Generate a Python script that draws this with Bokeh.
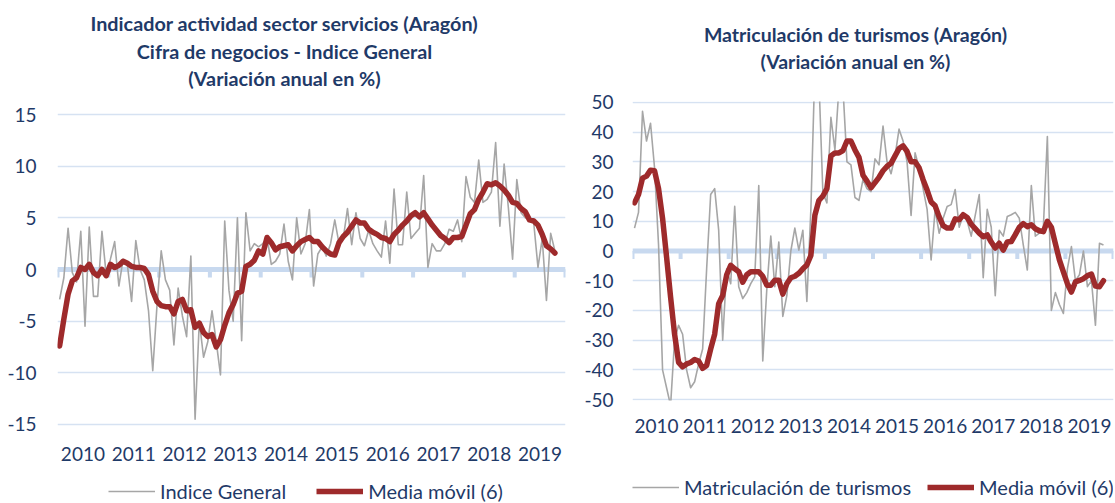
import pandas as pd
from bokeh.plotting import figure
from bokeh.layouts import row, column
from bokeh.models import Range1d, FixedTicker, Span, Legend, LegendItem
from bokeh.core.properties import value
from bokeh.embed import file_html
from bokeh.resources import INLINE

# ---------------- data ----------------
years = list(range(2010, 2020))
year_labels = [str(y) for y in years]
first_month = "2010-01"

left_title = ["Indicador actividad sector servicios (Aragón)",
              "Cifra de negocios - Indice General",
              "(Variación anual en %)"]
right_title = ["Matriculación de turismos (Aragón)",
               "(Variación anual en %)"]

left_yticks = [-15, -10, -5, 0, 5, 10, 15]
right_yticks = [-50, -40, -30, -20, -10, 0, 10, 20, 30, 40, 50]

indice_general = [
    -2.9, -0.8, 4.0, -0.3, -1.2, 3.7, -5.5, 4.1, -2.6, -2.6, 3.7, -0.5,
    1.0, 2.7, -1.6, 1.0, 0.5, -3.1, 2.8, 0.0, -1.0, -4.0, -9.8, -3.5,
    1.8, -1.0, -2.0, -7.3, -1.8, -4.5, -6.5, 1.3, -14.5, -5.0, -8.5, -7.0,
    -4.0, -7.0, -10.2, 4.7, -2.0, -5.0, 5.0, -6.9, 5.5, 1.8, 2.5, 2.2,
    2.5, 3.1, 0.5, 0.8, 1.5, 4.4, 0.8, -1.0, 5.0, 1.5, 2.5, 5.8,
    -1.6, 1.5, 2.2, 1.3, 2.5, 4.8, 2.5, 3.0, 5.9, 2.4, 5.5, 3.0,
    2.3, 3.8, 2.5, 1.8, 1.2, 4.7, 0.6, 7.8, 2.4, 2.4, 7.5, 3.0,
    3.5, 4.0, 9.1, 0.2, 2.5, 1.8, 1.8, 2.5, 3.9, 3.7, 4.8, 2.7,
    9.0, 7.0, 6.5, 10.6, 6.5, 6.8, 7.5, 12.3, 4.2, 10.2, 6.0, 1.0,
    8.7, 5.5, 5.0, 5.0, 4.5, 0.2, 3.0, -3.0, 3.5, 1.8]

indice_media = [
    -7.4, -4.8, -2.4, -1.1, -0.8, 0.2, 0.0, 0.5, -0.3, -0.6, 0.0, -0.6,
    0.5, 0.2, 0.4, 0.8, 0.6, 0.3, 0.2, 0.2, 0.1, -0.5, -2.1, -3.1,
    -3.5, -3.6, -3.6, -4.3, -3.1, -2.9, -4.0, -3.9, -5.6, -5.2, -6.1, -6.5,
    -6.3, -7.5, -6.8, -5.4, -4.2, -3.4, -2.3, -2.1, 0.3, 0.5, 0.9, 1.8,
    1.5, 3.1, 2.6, 1.9, 2.2, 2.3, 2.4, 1.8, 2.3, 2.7, 2.9, 3.1,
    2.7, 2.7, 2.2, 1.8, 1.5, 1.4, 2.6, 3.2, 3.6, 4.2, 4.8, 4.5,
    4.5, 3.9, 3.6, 3.4, 3.1, 3.0, 2.7, 3.4, 3.8, 4.3, 4.7, 5.2,
    5.5, 5.1, 5.5, 4.9, 4.3, 3.8, 3.3, 3.0, 2.6, 3.1, 3.1, 3.2,
    4.3, 5.4, 5.8, 6.8, 7.5, 8.3, 8.2, 8.4, 8.1, 7.7, 7.2, 6.5,
    6.4, 5.9, 5.6, 4.8, 4.7, 4.3, 3.4, 2.3, 2.0, 1.6]

matriculacion = [
    7.7, 13.0, 47.0, 37.0, 43.0, 28.0, 2.0, -40.0, -46.0, -52.0, -30.0, -25.0,
    -28.0, -40.0, -46.0, -44.0, -38.0, -33.0, -6.0, 19.0, 21.0, 7.0, -30.0, -6.0,
    -11.0, 15.0, -12.0, -16.0, -14.0, -11.0, -8.7, 22.0, -37.0, -13.0, 5.0, -12.0,
    3.0, -22.0, -15.0, 0.0, 7.7, 0.3, 7.0, -17.0, 14.0, 62.0, 58.0, 19.5,
    16.2, 45.0, 34.0, 55.0, 55.0, 30.0, 29.0, 18.0, 17.0, 24.0, 21.0, 20.0,
    31.0, 29.0, 42.0, 30.0, 26.0, 32.0, 41.0, 37.0, 30.0, 12.0, 33.0, 28.0,
    21.0, 14.0, -3.0, 14.0, 6.0, 11.0, 15.0, 15.6, 20.7, 8.0, 12.0, 10.0,
    5.0, 12.0, 19.0, -9.0, 14.0, 8.0, -15.0, 7.0, 5.0, 11.6, 12.2, 13.0,
    11.0, 2.0, -6.4, 22.0, 5.0, 6.0, 8.0, 38.5, -20.0, -14.0, -18.0, -21.0,
    -6.0, 1.5, -10.0, -8.0, 0.0, -12.0, -10.0, -25.0, 2.6, 2.0]

matriculacion_media = [
    16.2, 19.0, 24.5, 25.2, 27.2, 27.0, 21.0, 11.0, -2.0, -15.5, -28.0, -37.5,
    -39.0, -38.0, -37.5, -36.5, -37.0, -39.5, -38.5, -33.0, -28.0, -17.7, -15.0, -8.0,
    -4.8, -6.0, -7.0, -10.5, -8.0, -7.0, -7.0, -7.0, -8.5, -11.5, -11.5, -9.8,
    -9.8, -14.5, -11.0, -9.0, -8.5, -7.5, -6.0, -4.7, -1.5, 12.0, 17.0, 18.5,
    21.0, 32.0, 33.0, 33.0, 33.8, 37.0, 37.0, 34.0, 31.5, 25.5, 23.5, 21.3,
    23.0, 24.8, 27.0, 28.5, 29.5, 32.0, 34.5, 35.4, 33.5, 30.0, 30.0, 28.0,
    24.0, 20.5, 16.5, 15.2, 11.5, 8.5, 7.7, 7.7, 10.8, 10.5, 12.2, 11.3,
    9.0, 7.5, 6.0, 4.8, 5.4, 3.0, 1.0, 2.6, 0.3, 3.0, 3.2, 5.5,
    8.0, 9.2, 8.2, 8.8, 7.5, 6.8, 6.5, 10.0, 8.0, 2.5, -3.0, -7.0,
    -11.0, -13.8, -10.4, -9.9, -9.3, -8.3, -7.8, -11.8, -12.0, -10.0]

# ---------------- style ----------------
NAVY = "#1F3A68"
RED = "#9E2A2B"
GREY = "#A6A6A6"
GRID = "#D6E2F2"
ZERO = "#C8D9EF"
FONT = "Lato"

months = pd.date_range(first_month, periods=len(indice_general), freq="MS")
xm = [d.year + (d.month - 0.5) / 12 for d in months]
year_mid = [y + 0.5 for y in years]
bounds = years + [years[-1] + 1]


def blank(width, height, left, right, xr=None, yr=None):
    # same horizontal borders as the chart below it, so frames line up
    f = figure(width=width, height=height, output_backend="svg",
               toolbar_location=None, tools="",
               x_axis_type=None, y_axis_type=None,
               x_range=xr or Range1d(left, width - right),
               y_range=yr or Range1d(height, 0),
               min_border_left=left, min_border_right=right,
               min_border_top=0, min_border_bottom=0)
    f.outline_line_color = None
    f.xgrid.visible = False
    f.ygrid.visible = False
    return f


def title_fig(width, height, left, right, lines, cx, ys, size):
    t = blank(width, height, left, right)
    t.text(x=[cx] * len(lines), y=ys, text=lines,
           text_font=value(FONT), text_font_style="bold",
           text_font_size=value(size), text_color=NAVY,
           text_align="center", text_baseline="middle")
    return t


def legend_fig(width, height, left, right, grey_vals, red_vals,
               grey_label, red_label, gx, gy, spacing):
    # ranges far from the data: the two series only feed the legend keys
    l = blank(width, height, left, right, Range1d(0, 1), Range1d(0, 1))
    g = l.line(xm, grey_vals, line_color=GREY, line_width=1.6)
    r = l.line(xm, red_vals, line_color=RED, line_width=5.5)
    leg = Legend(items=[LegendItem(label=grey_label, renderers=[g]),
                        LegendItem(label=red_label, renderers=[r])],
                 orientation="horizontal", location=(gx, gy),
                 padding=0, margin=0, spacing=spacing,
                 glyph_width=47, glyph_height=20, label_height=20,
                 label_standoff=5, label_text_font=FONT,
                 label_text_font_size="20px", label_text_color=NAVY,
                 border_line_color=None, background_fill_alpha=0)
    l.add_layout(leg)
    return l


def chart(width, height, mb, ylim, yticks, grey_vals, red_vals,
          xstandoff, ystandoff):
    left, right, top, bottom = mb
    p = figure(width=width, height=height, output_backend="svg",
               toolbar_location=None, tools="",
               x_range=Range1d(years[0], years[-1] + 1),
               y_range=Range1d(*ylim),
               min_border_left=left, min_border_right=right,
               min_border_top=top, min_border_bottom=bottom)
    p.outline_line_color = None

    p.xaxis.ticker = FixedTicker(ticks=year_mid)
    p.xaxis.major_label_overrides = {m: l for m, l in zip(year_mid, year_labels)}
    p.yaxis.ticker = FixedTicker(ticks=yticks)
    p.yaxis.major_label_overrides = {t: str(t) for t in yticks}
    for ax in (p.xaxis, p.yaxis):
        ax.axis_line_color = None
        ax.major_tick_line_color = None
        ax.minor_tick_line_color = None
        ax.major_tick_out = 0
        ax.major_tick_in = 0
        ax.minor_tick_out = 0
        ax.major_label_text_font = FONT
        ax.major_label_text_font_size = "19px"
        ax.major_label_text_color = NAVY
    p.yaxis.major_label_standoff = ystandoff
    p.xaxis.major_label_standoff = xstandoff
    p.xgrid.visible = False
    p.ygrid.grid_line_color = GRID
    p.ygrid.grid_line_width = 1.3

    fh = height - top - bottom
    ppu = fh / (ylim[1] - ylim[0])
    p.add_layout(Span(location=0, dimension="width", line_color=ZERO,
                      line_width=5, level="underlay"))
    p.segment(x0=bounds, y0=[0] * len(bounds), x1=bounds,
              y1=[-8 / ppu] * len(bounds), line_color=ZERO, line_width=4,
              level="underlay")

    p.line(xm, grey_vals, line_color=GREY, line_width=1.6, line_join="round")
    p.line(xm, red_vals, line_color=RED, line_width=5.5,
           line_join="round", line_cap="round")
    return p


# left column: page x 0..580 ; frame x 57..565, y 111..427
LW, LL, LR = 580, 57, 15
t1 = title_fig(LW, 90, LL, LR, left_title, 284, [22, 50, 77], "19.8px")
p1 = chart(LW, 382, (LL, LR, 21, 45), (-15.3, 15.3), left_yticks,
           indice_general, indice_media, 19, 21)
l1 = legend_fig(LW, 31, LL, LR, indice_general, indice_media,
                "Indice General", "Media móvil (6)", 108 - LL, 0, 30)

# right column: page x 580..1115 ; frame x 632..1113, y 101..400
RW, RL, RR = 535, 52, 2
t2 = title_fig(RW, 80, RL, RR, right_title, 855 - 580, [34, 61], "19.5px")
p2 = chart(RW, 366, (RL, RR, 21, 46), (-50.3, 50.3), right_yticks,
           matriculacion, matriculacion_media, 18, 19)
l2 = legend_fig(RW, 57, RL, RR, matriculacion, matriculacion_media,
                "Matriculación de turismos", "Media móvil (6)", 0, 4, 16)

layout = row(column(t1, p1, l1), column(t2, p2, l2))
open("out.html", "w").write(file_html(layout, INLINE))
